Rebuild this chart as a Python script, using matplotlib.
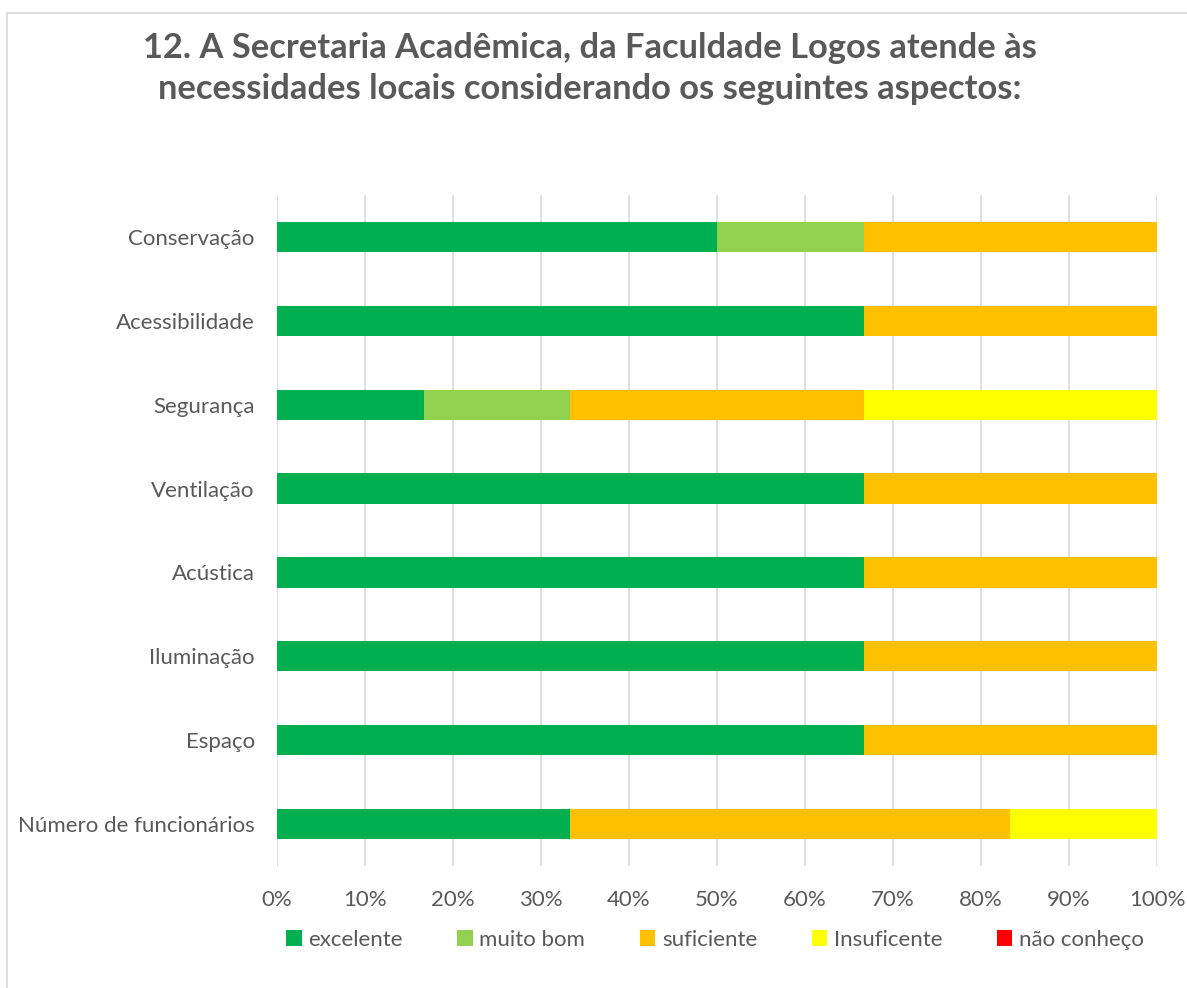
import numpy as np
import matplotlib
matplotlib.use('Agg')
import matplotlib.pyplot as plt
from matplotlib.patches import Rectangle, Patch

# categories, bottom to top as plotted
categorias = ['Número de funcionários', 'Espaço', 'Iluminação', 'Acústica',
              'Ventilação', 'Segurança', 'Acessibilidade', 'Conservação']

# percentage for each answer (same order as categorias)
excelente   = [33.33, 66.67, 66.67, 66.67, 66.67, 16.67, 66.67, 50.00]
muito_bom   = [0.00, 0.00, 0.00, 0.00, 0.00, 16.67, 0.00, 16.67]
suficiente  = [50.00, 33.33, 33.33, 33.33, 33.33, 33.33, 33.33, 33.33]
insuficente = [16.67, 0.00, 0.00, 0.00, 0.00, 33.33, 0.00, 0.00]
nao_conheco = [0.00, 0.00, 0.00, 0.00, 0.00, 0.00, 0.00, 0.00]

series = [excelente, muito_bom, suficiente, insuficente, nao_conheco]
nomes = ['excelente', 'muito bom', 'suficiente', 'Insuficente', 'não conheço']
cores = ['#00B050', '#92D050', '#FFC000', '#FFFF00', '#FF0000']

x_ticks = np.arange(0, 101, 10)

txt = '#595959'
fonte = 'Lato'

W, H = 1187, 988
fig = plt.figure(figsize=(W/100, H/100), dpi=100)

# chart frame (light border, left/top visible)
fig.patches.append(Rectangle((7/W, -0.05), 1.2, (H-13)/H + 0.05, transform=fig.transFigure,
                             fill=False, edgecolor='#D9D9D9', linewidth=1.2))

ax = fig.add_axes([277/W, (H-866)/H, (1157-277)/W, (866-195)/H])

y = np.arange(len(categorias))
left = np.zeros(len(categorias))
for vals, nome, cor in zip(series, nomes, cores):
    vals = np.array(vals)
    ax.barh(y, vals, left=left, height=0.36, color=cor, label=nome, zorder=3)
    left = left + vals

ax.set_xlim(0, 100)
ax.set_ylim(-0.5, len(categorias)-0.5)
ax.set_xticks(x_ticks)
ax.set_xticklabels(['%d%%' % v for v in x_ticks], fontsize=16, color=txt, family=fonte)
ax.set_yticks(y)
ax.set_yticklabels(categorias, fontsize=16, color=txt, family=fonte)
ax.tick_params(axis='both', length=0)
ax.tick_params(axis='x', pad=17)
ax.tick_params(axis='y', pad=16)
ax.grid(axis='x', color='#D9D9D9', linewidth=1.2, zorder=0)
for s in ax.spines.values():
    s.set_visible(False)

fig.text(590/W, 1-48/H, '12. A Secretaria Acadêmica, da Faculdade Logos atende às',
         ha='center', va='center', fontsize=24.8, fontweight='bold', color=txt, family=fonte)
fig.text(590/W, 1-89/H, 'necessidades locais considerando os seguintes aspectos:',
         ha='center', va='center', fontsize=24.8, fontweight='bold', color=txt, family=fonte)

handles = [Patch(facecolor=c, edgecolor='none') for c in cores]
fig.legend(handles, nomes, loc='center', bbox_to_anchor=(715/W, 1-940/H), ncol=5,
           frameon=False, prop={'family': fonte, 'size': 16}, labelcolor=txt,
           handlelength=0.7, handleheight=0.7, handletextpad=0.3, columnspacing=2.45)

fig.savefig('out.png', dpi=100)
